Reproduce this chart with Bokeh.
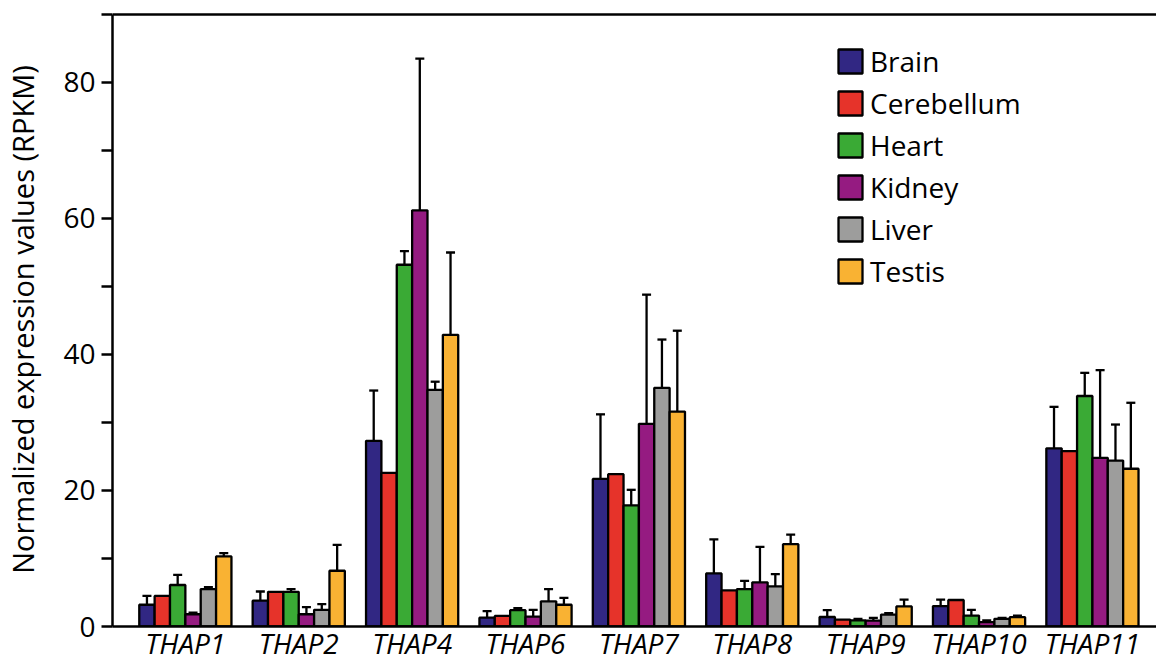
from bokeh.plotting import figure
from bokeh.models import (ColumnDataSource, Range1d, FixedTicker, Span, Whisker, TeeHead)
from bokeh.embed import file_html
from bokeh.resources import INLINE

# ---------------- data ----------------
genes = ["THAP1", "THAP2", "THAP4", "THAP6", "THAP7", "THAP8", "THAP9", "THAP10", "THAP11"]
tissues = ["Brain", "Cerebellum", "Heart", "Kidney", "Liver", "Testis"]

brain      = [3.2, 3.8, 27.3, 1.3, 21.7, 7.8, 1.4, 3.0, 26.2]
brain_err  = [1.3, 1.35, 7.4, 0.95, 9.5, 5.0, 1.0, 0.95, 6.1]
cerebellum = [4.5, 5.1, 22.6, 1.55, 22.4, 5.3, 1.0, 3.9, 25.8]
cerebellum_err = [None] * 9
heart      = [6.1, 5.1, 53.2, 2.4, 17.8, 5.5, 0.9, 1.6, 33.9]
heart_err  = [1.5, 0.4, 2.0, 0.3, 2.3, 1.2, 0.2, 0.85, 3.4]
kidney     = [1.8, 1.8, 61.2, 1.45, 29.8, 6.5, 0.85, 0.65, 24.8]
kidney_err = [0.25, 1.05, 22.3, 1.0, 19.0, 5.2, 0.42, 0.23, 12.9]
liver      = [5.5, 2.45, 34.8, 3.7, 35.1, 5.9, 1.76, 1.13, 24.4]
liver_err  = [0.3, 0.85, 1.2, 1.8, 7.1, 1.8, 0.2, 0.14, 5.3]
testis     = [10.3, 8.2, 42.9, 3.2, 31.6, 12.1, 2.95, 1.37, 23.2]
testis_err = [0.5, 3.8, 12.1, 1.0, 11.9, 1.4, 1.0, 0.23, 9.7]

values = [brain, cerebellum, heart, kidney, liver, testis]
errors = [brain_err, cerebellum_err, heart_err, kidney_err, liver_err, testis_err]
colors = ["#312783", "#E6332A", "#3AAA35", "#951B81", "#9D9D9C", "#F9B233"]

y_major = [0, 20, 40, 60, 80]
y_minor = [10, 30, 50, 70, 90]

FONT = "Open Sans"

# ---------------- figure ----------------
p = figure(width=1156, height=664, output_backend="svg", toolbar_location=None,
           x_range=Range1d(-0.6426, 8.5651), y_range=Range1d(0, 90.294),
           min_border_left=110, min_border_right=0, min_border_top=12, min_border_bottom=0)
p.title.visible = False
p.outline_line_color = None
p.grid.visible = False
p.background_fill_color = "white"
p.border_fill_color = "white"

bw = 0.1355
xs = list(range(len(genes)))
for j, (name, vals, errs, col) in enumerate(zip(tissues, values, errors, colors)):
    off = (j - 2.5) * bw
    xpos = [x + off for x in xs]
    src = ColumnDataSource(dict(x=xpos, top=vals))
    p.vbar(x="x", top="top", width=bw, source=src, fill_color=col,
           line_color="black", line_width=2.3, legend_label=name)
    ex, lo, hi = [], [], []
    for x, v, e in zip(xpos, vals, errs):
        if e is not None:
            ex.append(x); lo.append(v); hi.append(v + e)
    if ex:
        wsrc = ColumnDataSource(dict(base=ex, lower=lo, upper=hi))
        p.add_layout(Whisker(base="base", lower="lower", upper="upper", source=wsrc,
                             line_color="black", line_width=2.3,
                             lower_head=None,
                             upper_head=TeeHead(size=9, line_width=2.3, line_color="black")))

# top line
p.add_layout(Span(location=90, dimension="width", line_color="black", line_width=2.5))

# x axis
xa = p.xaxis[0]
xa.ticker = FixedTicker(ticks=xs)
xa.major_label_overrides = {i: g for i, g in zip(xs, genes)}
xa.axis_line_width = 2.5
xa.major_tick_line_color = None
xa.minor_tick_line_color = None
xa.major_tick_out = 0
xa.major_tick_in = 0
xa.major_label_standoff = -3
xa.major_label_text_font = FONT
xa.major_label_text_font_style = "italic"
xa.major_label_text_font_size = "28px"
xa.major_label_text_color = "black"

# y axis
ya = p.yaxis[0]
ya.bounds = (0, 90)
ya.ticker = FixedTicker(ticks=y_major, minor_ticks=y_minor)
ya.axis_line_width = 2.5
ya.major_tick_line_width = 2.5
ya.minor_tick_line_width = 2.5
ya.major_tick_out = 11
ya.major_tick_in = 0
ya.minor_tick_out = 11
ya.minor_tick_in = 0
ya.major_label_standoff = 6
ya.major_label_text_font = FONT
ya.major_label_text_font_size = "28px"
ya.major_label_text_color = "black"
ya.axis_label = "Normalized expression values (RPKM)"
ya.axis_label_text_font = FONT
ya.axis_label_text_font_style = "normal"
ya.axis_label_text_font_size = "29px"
ya.axis_label_text_color = "black"
ya.axis_label_standoff = 18

# legend
lg = p.legend[0]
lg.location = (723, 336)
lg.padding = 0
lg.margin = 0
lg.spacing = 4
lg.glyph_width = 30
lg.glyph_height = 30
lg.label_height = 30
lg.label_standoff = 5
lg.label_text_font = FONT
lg.label_text_font_size = "28px"
lg.label_text_color = "black"
lg.border_line_color = None
lg.background_fill_alpha = 0

open("out.html", "w").write(file_html(p, INLINE))
